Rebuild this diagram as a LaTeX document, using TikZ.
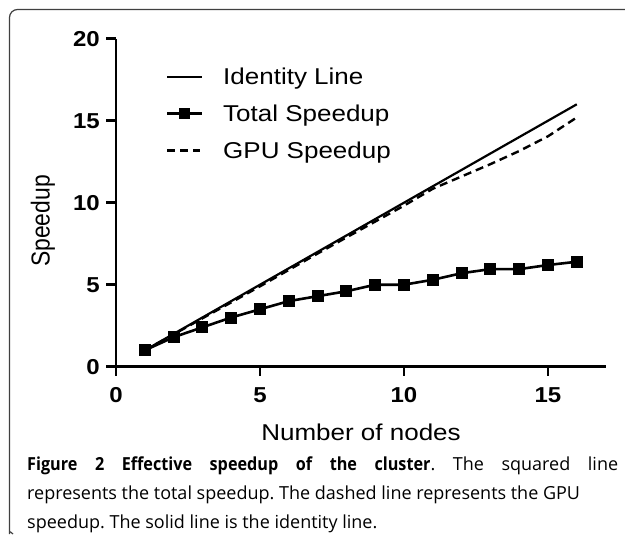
\documentclass[tikz,border=0pt]{standalone}
\usepackage{fontspec}
\setmainfont{Liberation Sans}
\newfontfamily\capfont{Open Sans}
\usepackage{graphicx}
\usepackage{tikz}
\usetikzlibrary{positioning}
\newcommand{\bfw}[1]{\scalebox{0.9}[1]{\bfseries #1}}

\begin{document}
\begin{tikzpicture}[x=1pt,y=-1pt,
  lbl/.style={inner sep=0pt,yscale=0.88,font=\fontsize{26}{30}\selectfont},
  ticklbl/.style={inner sep=0pt,yscale=0.9,font=\fontsize{24}{28}\selectfont\bfseries},
  sq/.style={fill=black,inner sep=0pt,minimum size=12pt},
  axis/.style={line width=2.6pt},
  gpu/.style={line width=2.4pt,dash pattern=on 8pt off 5pt}]
\useasboundingbox (0,0) rectangle (625,535);
% frame
\draw[line width=1.2pt,black!75,rounded corners=8pt] (626,9.5)--(9.5,9.5)--(9.5,526)
  .. controls (9.5,531) .. (13,534);
% plot
\begin{scope}[shift={(116,366.7)},x=28.8pt,y=16.4pt]
\coordinate (o) at (0,0);
\coordinate (xend) at (17,0);
\coordinate (yend) at (0,20);
\draw[axis] (xend)--(o)--(yend);
\foreach \v in {0,5,10,15,20}{
  \draw[axis] (0,\v)--++(-10pt,0pt);
  \node[ticklbl,anchor=east] (yl\v) at ([xshift=-16pt]0,\v) {\v};
}
\foreach \v in {0,5,10,15}{
  \draw[axis] (\v,0)--++(0pt,-9pt);
  \node[ticklbl,anchor=north] (xl\v) at ([yshift=-21pt]\v,0) {\v};
}
% identity
\coordinate (id1) at (1,1);
\coordinate (id16) at (16,16);
\draw[line width=2.2pt] (id1)--(id16);
% gpu
\draw[gpu] plot coordinates {(1,1) (2,1.97) (3,2.95) (4,3.92) (5,4.9) (6,5.9) (7,6.9)
  (8,7.88) (9,8.85) (10,9.82) (11,10.85) (12,11.6) (13,12.35) (14,13.15) (15,14.05) (16,15.2)};
% total
\foreach \x/\y in {1/1.0,2/1.8,3/2.4,4/3.0,5/3.5,6/4.0,7/4.3,8/4.6,9/5.0,10/5.0,11/5.3,12/5.7,13/5.95,14/5.95,15/6.2,16/6.4}
  \node[sq] (t\x) at (\x,\y) {};
\draw[line width=2.6pt] (t1.center) \foreach \x in {2,...,16}{--(t\x.center)};
\end{scope}
% legend
\node[lbl,anchor=base west] (legid) at (223,85) {Identity Line};
\node[lbl,anchor=base west] (legtot) at (223,121.5) {Total Speedup};
\node[lbl,anchor=base west] (leggpu) at (223,158.5) {GPU Speedup};
\draw[line width=2.2pt] ([xshift=-56pt,yshift=8pt]legid.base west)--([xshift=-21pt,yshift=8pt]legid.base west);
\draw[line width=2.6pt] ([xshift=-56pt,yshift=8pt]legtot.base west)--([xshift=-21pt,yshift=8pt]legtot.base west);
\node[sq,minimum size=11pt] (legsq) at ([xshift=-38.5pt,yshift=8pt]legtot.base west) {};
\draw[gpu] ([xshift=-56pt,yshift=8pt]leggpu.base west)--([xshift=-23pt,yshift=8pt]leggpu.base west);
% axis titles
\node[lbl,anchor=base] (xtitle) at (361,440) {Number of nodes};
\node[lbl,rotate=90] (ytitle) at (43,221) {Speedup};
% caption
\node[inner sep=0pt,anchor=north west,text width=591pt,align=justify,
  font=\capfont\fontsize{18}{29}\selectfont\frenchspacing] (cap) at (27,457)
  {\bfw{Figure} \bfw{2} \bfw{Effective} \bfw{speedup} \bfw{of} \bfw{the} \bfw{cluster}. The squared line\linebreak
   represents the total speedup. The dashed line represents the GPU\\
   speedup. The solid line is the identity line.};
\end{tikzpicture}
\end{document}
